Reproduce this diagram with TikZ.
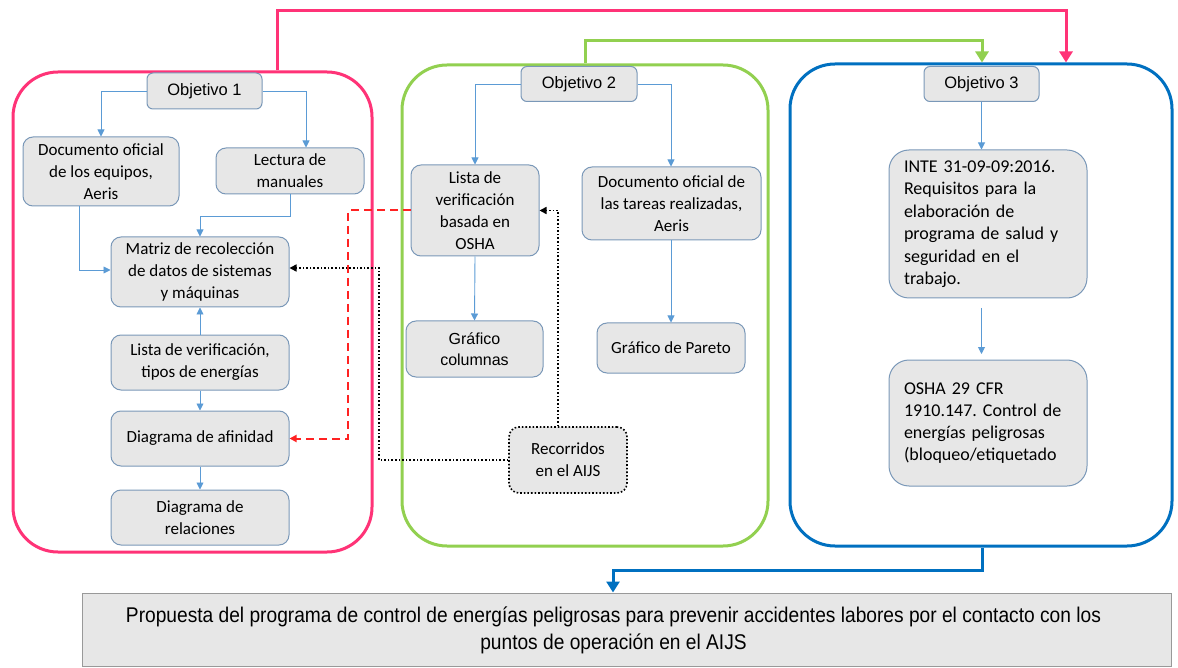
\documentclass[tikz,border=0pt]{standalone}
\usepackage{fontspec}
\setmainfont{Liberation Sans}
\newfontfamily\carl{Carlito}
\newfontfamily\narrowsans[FakeStretch=0.90]{Liberation Sans}
\usetikzlibrary{arrows.meta}
\definecolor{pinkc}{HTML}{FF3377}
\definecolor{greenc}{HTML}{92D050}
\definecolor{bluec}{HTML}{0070C0}
\definecolor{lnk}{HTML}{5B9BD5}
\definecolor{bfill}{HTML}{E7E7E7}
\definecolor{bdraw}{HTML}{7A98B8}
\definecolor{redd}{HTML}{FF2222}
\begin{document}
\frenchspacing
\begin{tikzpicture}[x=1pt,y=-1pt,
 cont/.style={line width=3pt, rounded corners=45pt, inner sep=0pt},
 box/.style={draw=bdraw, fill=bfill, line width=1pt, rounded corners=10pt, inner sep=0pt, align=center, font=\carl\fontsize{17}{22}\selectfont},
 obj/.style={box, rounded corners=6pt, font=\fontsize{16.5}{20}\selectfont},
 link/.style={draw=lnk, line width=0.9pt, -{Triangle[length=7pt,width=7pt]}},
 bigarrow/.style={line width=3pt, -{Triangle[length=11pt,width=13pt]}},
 reddash/.style={draw=redd, line width=2pt, dash pattern=on 8pt off 5pt, -{Triangle[length=7pt,width=7pt]}},
 blkdot/.style={draw=black, line width=1.6pt, dotted, -{Triangle[length=7pt,width=7pt]}}
]
\useasboundingbox (0,0) rectangle (1178,668);
% containers
\node[cont, draw=pinkc, minimum width=359pt, minimum height=480pt] (c1) at (192.5,312) {};
\node[cont, draw=greenc, minimum width=366pt, minimum height=481pt] (c2) at (585,305.5) {};
\node[cont, draw=bluec, minimum width=382pt, minimum height=482pt] (c3) at (981,305) {};
% top connectors
\coordinate (p1) at (277,11);
\coordinate (p2) at (1066,11);
\draw[bigarrow, pinkc] (c1.north -| p1) -- (p1) -- (p2) -- (c3.north -| p2);
\coordinate (g1) at (585,41);
\coordinate (g2) at (982,41);
\draw[bigarrow, greenc] (c2.north -| g1) -- (g1) -- (g2) -- (c3.north -| g2);
% objective 1
\node[obj, minimum width=115pt, minimum height=36pt] (o1) at (204.5,91) {Objetivo 1};
\node[box, minimum width=156pt, minimum height=69pt] (doc1) at (101,171.5) {Documento oficial\\de los equipos,\\Aeris};
\node[box, minimum width=148pt, minimum height=46pt] (lect) at (290,171) {Lectura de\\manuales};
\node[box, minimum width=178pt, minimum height=70pt] (mat) at (200,272) {Matriz de recolección\\de datos de sistemas\\y máquinas};
\node[box, minimum width=178pt, minimum height=55pt] (lista1) at (200,362.5) {Lista de verificación,\\tipos de energías};
\node[box, minimum width=178pt, minimum height=55pt] (afin) at (200,438.5) {Diagrama de afinidad};
\node[box, minimum width=178pt, minimum height=55pt] (rel) at (200,517.5) {Diagrama de\\relaciones};
\coordinate (a1) at (101,91);
\coordinate (a2) at (306,91);
\draw[link] (o1.west) -- (a1) -- (doc1.north -| a1);
\draw[link] (o1.east) -- (a2) -- (lect.north -| a2);
\coordinate (a3) at (79,270);
\draw[link] (doc1.south -| a3) -- (a3) -- (mat.west |- a3);
\coordinate (a4) at (290,216);
\coordinate (a5) at (200,216);
\draw[link] (lect.south -| a4) -- (a4) -- (a5) -- (mat.north);
\draw[link] (lista1.north) -- (mat.south);
\draw[link] (lista1.south) -- (afin.north);
\draw[link] (afin.south) -- (rel.north);
% objective 2
\node[obj, minimum width=116pt, minimum height=35pt] (o2) at (579,84) {Objetivo 2};
\node[box, minimum width=128pt, minimum height=91pt] (osha) at (475,210.5) {Lista de\\verificación\\basada en\\OSHA};
\node[box, minimum width=179pt, minimum height=73pt] (doc2) at (671.5,203.5) {Documento oficial de\\las tareas realizadas,\\Aeris};
\node[box, minimum width=137pt, minimum height=56pt, font=\fontsize{16}{21}\selectfont] (col) at (474.5,349) {Gráfico\\columnas};
\node[box, minimum width=148pt, minimum height=50pt] (par) at (671,348) {Gráfico de Pareto};
\node[box, draw=black, line width=1.6pt, dotted, minimum width=118pt, minimum height=66pt] (rec) at (568,460) {Recorridos\\en el AIJS};
\coordinate (b1) at (475,84);
\coordinate (b2) at (671,84);
\draw[link] (o2.west) -- (b1) -- (osha.north -| b1);
\draw[link] (o2.east) -- (b2) -- (doc2.north -| b2);
\draw[link] (osha.south) -- (col.north);
\draw[link] (doc2.south -| b2) -- (par.north -| b2);
% red dashed
\coordinate (r1) at (348,210.5);
\draw[reddash] (osha.west) -- (r1) -- (r1 |- afin.east) -- (afin.east);
% black dotted
\coordinate (d1) at (379,460);
\draw[blkdot] (rec.west) -- (d1) -- (d1 |- 0,268) -- (mat.east |- 0,268);
\coordinate (d2) at (558,210.5);
\draw[blkdot] (rec.north -| d2) -- (d2) -- (osha.east);
% objective 3
\node[obj, minimum width=115pt, minimum height=35pt] (o3) at (981.5,84) {Objetivo 3};
\node[box, rounded corners=20pt, minimum width=198pt, minimum height=148pt, text width=168pt, align=left, font=\carl\fontsize{18}{22.5}\selectfont] (inte) at (988,224) {INTE 31-09-09:2016.\\Requisitos para la\\elaboración de\\programa de salud y\\seguridad en el\\trabajo.};
\node[box, rounded corners=20pt, minimum width=198pt, minimum height=126pt, text width=168pt, align=left, font=\carl\fontsize{18}{22}\selectfont] (osha29) at (988,423) {OSHA 29 CFR\\1910.147. Control de\\energías peligrosas\\(bloqueo/etiquetado};
\coordinate (e1) at (981.5,308);
\coordinate (e2) at (981.5,354);
\draw[link] (o3.south) -- (inte.north -| o3.south);
\draw[link] (e1) -- (e2);
% bottom
\node[draw=black!40, fill=bfill, line width=1pt, minimum width=1089pt, minimum height=73pt, inner sep=0pt] (prop) at (626.5,629.5) {};
\node[inner sep=0pt, align=center, font=\narrowsans\fontsize{21.3}{27}\selectfont] (proptext) at (613.5,630) {Propuesta del programa de control de energías peligrosas para prevenir accidentes labores por el contacto con los\\puntos de operación en el AIJS};
\coordinate (f1) at (982,570);
\coordinate (f2) at (613,570);
\draw[bigarrow, bluec] (c3.south -| f1) -- (f1) -- (f2) -- (prop.north -| f2);
\end{tikzpicture}
\end{document}
